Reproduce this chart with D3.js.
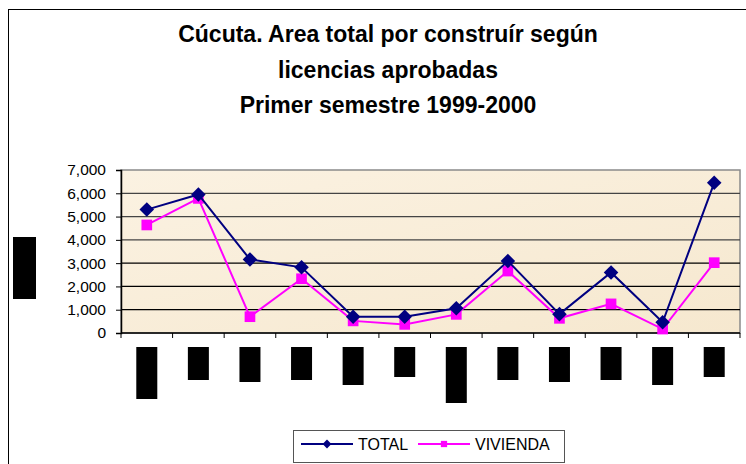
<!DOCTYPE html>
<html>
<head>
<meta charset="utf-8">
<script src="https://cdn.jsdelivr.net/npm/d3@7"></script>
<style>
  html, body { margin: 0; padding: 0; background: #fff; }
  svg { display: block; font-family: "Liberation Sans", Arial, sans-serif; }
</style>
</head>
<body>
<svg width="746" height="464"></svg>
<script>
// category labels are hidden behind black boxes in the source picture
const categories = ['c1', 'c2', 'c3', 'c4', 'c5', 'c6', 'c7', 'c8', 'c9', 'c10', 'c11', 'c12'];
const total = [5300, 5950, 3160, 2820, 700, 700, 1060, 3090, 810, 2600, 460, 6450];
const vivienda = [4640, 5780, 700, 2330, 520, 370, 800, 2660, 630, 1250, 170, 3020];
const labelBoxLength = [52, 33, 35, 33, 38, 30, 56, 33, 35, 33, 38, 30];
const yTicks = [0, 1000, 2000, 3000, 4000, 5000, 6000, 7000];
const titleLines = ['Cúcuta. Area total por construír según', 'licencias aprobadas', 'Primer semestre 1999-2000'];
const seriesNames = ['TOTAL', 'VIVIENDA'];

const svg = d3.select('svg');
const margin = { left: 121, right: 6, top: 170, bottom: 131 };
const width = 746, height = 464;

// outer chart frame
svg.append('rect')
  .attr('x', 8.5).attr('y', 9.5)
  .attr('width', 760).attr('height', 480)
  .attr('fill', 'none').attr('stroke', '#000').attr('stroke-width', 1);

const defs = svg.append('defs');
const grad = defs.append('linearGradient').attr('id', 'bg')
  .attr('x1', 0).attr('y1', 0).attr('x2', 1).attr('y2', 1);
grad.append('stop').attr('offset', 0).attr('stop-color', '#fbf2e2');
grad.append('stop').attr('offset', 1).attr('stop-color', '#f6e8cf');

const x = d3.scaleBand().domain(categories)
  .range([margin.left, width - margin.right]);
const y = d3.scaleLinear().domain([0, 7000])
  .range([height - margin.bottom, margin.top]);

// plot area
svg.append('rect')
  .attr('x', margin.left).attr('y', margin.top)
  .attr('width', width - margin.right - margin.left)
  .attr('height', height - margin.bottom - margin.top)
  .attr('fill', 'url(#bg)')
  .attr('stroke', '#8a8a8a').attr('stroke-width', 1.5);

// gridlines
svg.append('g')
  .selectAll('line')
  .data(yTicks.slice(1, -1))
  .join('line')
  .attr('x1', margin.left).attr('x2', width - margin.right)
  .attr('y1', d => y(d)).attr('y2', d => y(d))
  .attr('stroke', d => d >= 4000 ? '#444' : '#000')
  .attr('stroke-width', 1.2);

// y axis
const yAxis = svg.append('g')
  .attr('transform', `translate(${margin.left},0)`)
  .call(d3.axisLeft(y).tickValues(yTicks).tickSize(5).tickPadding(10).tickFormat(d3.format(',')));
yAxis.select('.domain').attr('stroke', '#000').attr('stroke-width', 1.5);
yAxis.selectAll('.tick line').attr('stroke', '#000');
yAxis.selectAll('text')
  .attr('font-size', 15.5).attr('fill', '#000')
  .attr('font-family', '"Liberation Sans", Arial, sans-serif');

// x axis
const xAxis = svg.append('g')
  .attr('transform', `translate(0,${height - margin.bottom})`);
xAxis.append('line')
  .attr('x1', margin.left).attr('x2', width - margin.right)
  .attr('stroke', '#000').attr('stroke-width', 1.5);
const bounds = categories.map(c => x(c)).concat([width - margin.right]);
xAxis.selectAll('.tk')
  .data(bounds)
  .join('line')
  .attr('class', 'tk')
  .attr('x1', d => d).attr('x2', d => d)
  .attr('y1', 0).attr('y2', 5)
  .attr('stroke', '#000');

// hidden category labels (black boxes)
svg.append('g')
  .selectAll('rect')
  .data(categories)
  .join('rect')
  .attr('x', d => x(d) + x.bandwidth() / 2 - 10.5)
  .attr('y', height - margin.bottom + 14)
  .attr('width', 21)
  .attr('height', (d, i) => labelBoxLength[i])
  .attr('fill', '#000');

// hidden y axis title
svg.append('rect')
  .attr('x', 13).attr('y', 237).attr('width', 23).attr('height', 62)
  .attr('fill', '#000');

// title
svg.append('text')
  .attr('text-anchor', 'middle')
  .attr('font-weight', 'bold')
  .attr('font-size', 23)
  .selectAll('tspan')
  .data(titleLines)
  .join('tspan')
  .attr('x', 388)
  .attr('y', (d, i) => 42 + i * 35.5)
  .text(d => d);

const line = d3.line()
  .x((d, i) => x(categories[i]) + x.bandwidth() / 2)
  .y(d => y(d));

const diamond = d3.symbol().type(d3.symbolDiamond2);
const square = d3.symbol().type(d3.symbolSquare2);

function drawSeries(values, color, sym, size) {
  svg.append('path')
    .datum(values)
    .attr('d', line)
    .attr('fill', 'none')
    .attr('stroke', color)
    .attr('stroke-width', 2);
  svg.append('g')
    .selectAll('path')
    .data(values)
    .join('path')
    .attr('transform', (d, i) => `translate(${x(categories[i]) + x.bandwidth() / 2},${y(d)})`)
    .attr('d', sym.size(size))
    .attr('fill', color);
}

drawSeries(vivienda, '#ff00ff', square, 145);
drawSeries(total, '#000080', diamond, 135);

// legend
const legend = svg.append('g');
legend.append('rect')
  .attr('x', 293.5).attr('y', 430.5).attr('width', 271).attr('height', 32)
  .attr('fill', '#fff').attr('stroke', '#555').attr('stroke-width', 1);

const legendItems = [
  { name: seriesNames[0], color: '#000080', sym: diamond.size(50), x0: 301 },
  { name: seriesNames[1], color: '#ff00ff', sym: square.size(50), x0: 418 }
];
legendItems.forEach(item => {
  const g = legend.append('g').attr('transform', `translate(${item.x0},444)`);
  g.append('line').attr('x1', 0).attr('x2', 52)
    .attr('stroke', item.color).attr('stroke-width', 2);
  g.append('path').attr('transform', 'translate(26,0)')
    .attr('d', item.sym).attr('fill', item.color);
  g.append('text').attr('x', 57).attr('y', 6)
    .attr('font-size', 16).attr('fill', '#000')
    .text(item.name);
});
</script>
</body>
</html>
